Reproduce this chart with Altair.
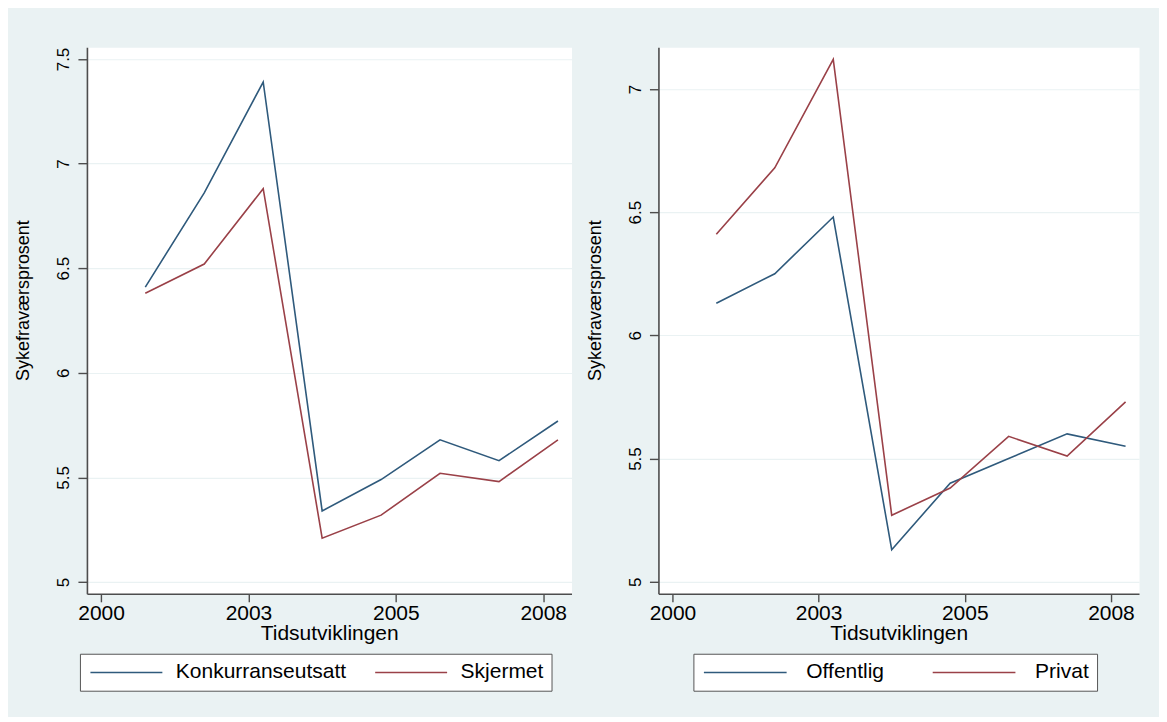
import altair as alt
import pandas as pd

# ---------------- data ----------------
years = [2000.75, 2001.75, 2002.75, 2003.75, 2004.75, 2005.75, 2006.75, 2007.75]
x_tick_values = [2000, 2002.5, 2005, 2007.5]
x_tick_labels = ["2000", "2003", "2005", "2008"]

left_names = ["Konkurranseutsatt", "Skjermet"]
konkurranseutsatt = [6.41, 6.86, 7.39, 5.34, 5.49, 5.68, 5.58, 5.77]
skjermet = [6.38, 6.52, 6.88, 5.21, 5.32, 5.52, 5.48, 5.68]
left_y_ticks = [5, 5.5, 6, 6.5, 7, 7.5]

right_names = ["Offentlig", "Privat"]
offentlig = [6.13, 6.25, 6.48, 5.13, 5.40, 5.50, 5.60, 5.55]
privat = [6.41, 6.68, 7.12, 5.27, 5.38, 5.59, 5.51, 5.73]
right_y_ticks = [5, 5.5, 6, 6.5, 7]

x_title = "Tidsutviklingen"
y_title = "Sykefraværsprosent"

# ---------------- style ----------------
NAVY = "#2f5a7c"
MAROON = "#9a4148"
BG = "#EAF2F3"
FONT = "Liberation Sans"
AXIS_COL = "#4d4d4d"

label_expr = ""
for v, l in zip(x_tick_values, x_tick_labels):
    label_expr += f"datum.value == {v} ? '{l}' : "
label_expr += "''"


def panel(names, s1, s2, y_domain, y_ticks, width, legend_x, sym_path,
          label_offset, col_pad):
    df = pd.DataFrame({
        "x": years + years,
        "y": s1 + s2,
        "serie": [names[0]] * len(s1) + [names[1]] * len(s2),
    })
    return alt.Chart(df).mark_line(strokeWidth=1.6, clip=True).encode(
        x=alt.X("x:Q",
                scale=alt.Scale(domain=[1999.76, 2007.98], nice=False, zero=False),
                axis=alt.Axis(values=x_tick_values, labelExpr=label_expr,
                              title=x_title, grid=False, tickSize=8,
                              labelPadding=18, labelBaseline="alphabetic",
                              labelFontSize=21, titleFontSize=21,
                              titleBaseline="alphabetic", titleY=46,
                              labelFlush=False, labelOverlap=False)),
        y=alt.Y("y:Q",
                scale=alt.Scale(domain=y_domain, nice=False, zero=False),
                axis=alt.Axis(values=y_ticks, format="~g", title=y_title,
                              grid=True, gridColor=BG, gridWidth=1.2,
                              tickSize=9, labelPadding=9, labelAngle=270,
                              labelAlign="center", labelBaseline="alphabetic",
                              labelFontSize=17, titleFontSize=18,
                              titleAngle=270, titleX=-58, titleY=253,
                              titleAlign="center", titleBaseline="alphabetic",
                              labelFlush=False, labelOverlap=False)),
        color=alt.Color("serie:N",
                        scale=alt.Scale(domain=names, range=[NAVY, MAROON]),
                        legend=alt.Legend(title=None, orient="none",
                                          legendX=legend_x, legendY=607,
                                          direction="horizontal", columns=2,
                                          gridAlign="all", columnPadding=col_pad,
                                          symbolType=sym_path, symbolSize=324,
                                          symbolStrokeWidth=1.6, symbolOffset=-8,
                                          labelOffset=label_offset,
                                          labelFontSize=21, labelFont=FONT,
                                          labelColor="#000", labelLimit=400,
                                          padding=8, strokeColor="#555",
                                          fillColor="white", cornerRadius=0)),
    ).properties(width=width, height=547)


left = panel(left_names, konkurranseutsatt, skjermet, [4.944, 7.556],
             left_y_ticks, 485, -7, "M0,0H8", 75, 25)
right = panel(right_names, offentlig, privat, [4.951, 7.169],
              right_y_ticks, 481, 35, "M0,0H9.2", 92, 45)

chart = alt.hconcat(left, right, spacing=87, bounds="flush").resolve_scale(
    color="independent"
).resolve_legend(color="independent").properties(
    padding={"left": 6, "top": 38, "right": 19, "bottom": 25},
    background=BG,
).configure_view(fill="white", stroke="transparent").configure_axis(
    domainColor=AXIS_COL, domainWidth=1.6, tickColor=AXIS_COL, tickWidth=1.4,
    labelFont=FONT, titleFont=FONT, labelColor="#000", titleColor="#000",
    titleFontWeight="normal",
)

chart.save("out.html", embed_options={"renderer": "svg", "actions": False})
